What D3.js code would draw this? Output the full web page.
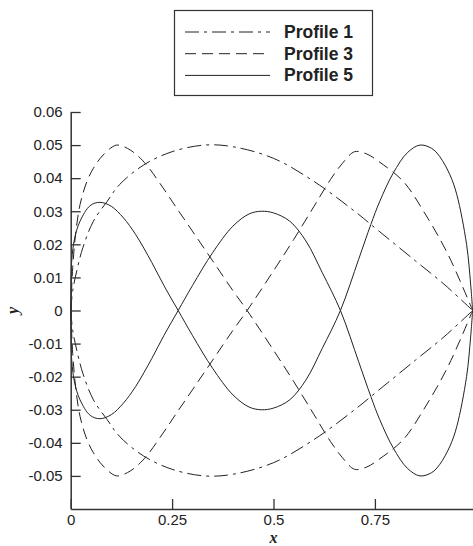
<!DOCTYPE html>
<html>
<head>
<meta charset="utf-8">
<script src="https://cdn.jsdelivr.net/npm/d3@7"></script>
<style>
  html, body { margin: 0; padding: 0; background: #fff; }
  svg { display: block; }
</style>
</head>
<body>
<div class="canvas"></div>
<script>
var width = 473,
    height = 546;

// data (upper and lower branch of each profile)
var xs1 = [0, 0.005, 0.015, 0.03, 0.056, 0.09, 0.12, 0.18, 0.25, 0.33, 0.4, 0.5, 0.6, 0.7, 0.76, 0.85, 0.92, 0.991];
var p1Upper = [0, 0.006, 0.012, 0.019, 0.027, 0.033, 0.038, 0.044, 0.048, 0.050, 0.0495, 0.046, 0.039, 0.030, 0.024, 0.015, 0.008, 0];
var p1Lower = [0, -0.006, -0.012, -0.019, -0.027, -0.033, -0.038, -0.044, -0.048, -0.050, -0.0495, -0.046, -0.039, -0.030, -0.024, -0.015, -0.008, 0];

var xs3 = [0, 0.005, 0.012, 0.023, 0.04, 0.056, 0.08, 0.113, 0.14, 0.163, 0.187, 0.228, 0.261, 0.3, 0.35, 0.4, 0.435, 0.5, 0.55, 0.6, 0.64, 0.67, 0.7, 0.73, 0.76, 0.82, 0.87, 0.93, 0.991];
var p3Upper = [0, 0.013, 0.023, 0.032, 0.039, 0.043, 0.047, 0.050, 0.049, 0.047, 0.044, 0.037, 0.031, 0.024, 0.015, 0.006, 0, -0.012, -0.0215, -0.0315, -0.0395, -0.0445, -0.048, -0.0473, -0.045, -0.039, -0.030, -0.017, 0];
var p3Lower = [0, -0.013, -0.023, -0.032, -0.039, -0.043, -0.047, -0.050, -0.049, -0.047, -0.044, -0.037, -0.031, -0.024, -0.015, -0.006, 0, 0.012, 0.0215, 0.0315, 0.0395, 0.0445, 0.048, 0.0473, 0.045, 0.039, 0.030, 0.017, 0];

var xs5 = [0, 0.0025, 0.01, 0.023, 0.048, 0.072, 0.1, 0.13, 0.16, 0.2, 0.23, 0.265, 0.3, 0.35, 0.4, 0.44, 0.47, 0.5, 0.54, 0.58, 0.62, 0.665, 0.71, 0.74, 0.762, 0.795, 0.83, 0.861, 0.89, 0.91, 0.935, 0.952, 0.976, 0.986, 0.991];
var p5Upper = [0, 0.015, 0.022, 0.027, 0.0317, 0.0327, 0.0315, 0.028, 0.023, 0.0145, 0.0075, 0, -0.0075, -0.0175, -0.0255, -0.0292, -0.030, -0.0295, -0.027, -0.021, -0.0115, 0, 0.0155, 0.026, 0.033, 0.0415, 0.0477, 0.050, 0.049, 0.0465, 0.041, 0.035, 0.020, 0.008, 0];
var p5Lower = [0, -0.015, -0.022, -0.027, -0.0317, -0.0327, -0.0315, -0.028, -0.023, -0.0145, -0.0075, 0, 0.0075, 0.0175, 0.0255, 0.0292, 0.030, 0.0295, 0.027, 0.021, 0.0115, 0, -0.0155, -0.026, -0.033, -0.0415, -0.0477, -0.050, -0.049, -0.0465, -0.041, -0.035, -0.020, -0.008, 0];

var xTicks = [0, 0.25, 0.5, 0.75];
var yTicks = [-0.05, -0.04, -0.03, -0.02, -0.01, 0, 0.01, 0.02, 0.03, 0.04, 0.05, 0.06];
var legendNames = ["Profile 1", "Profile 3", "Profile 5"];
var dashes = ["14,5,3,5", "11,6", null];

var svg = d3.select(".canvas").append("svg")
    .attr("width", width)
    .attr("height", height)
    .style("font-family", "'Liberation Sans', Arial, sans-serif");

var x = d3.scaleLinear().domain([0, 1]).range([70.7, 476.3]);
var y = d3.scaleLinear().domain([-0.06, 0.06]).range([509, 112]);

var line = d3.line()
    .x(function(d) { return x(d[0]); })
    .y(function(d) { return y(d[1]); })
    .curve(d3.curveCatmullRom.alpha(0.5));

var series = [
    {xs: xs1, ys: p1Upper, dash: dashes[0]},
    {xs: xs1, ys: p1Lower, dash: dashes[0]},
    {xs: xs3, ys: p3Upper, dash: dashes[1]},
    {xs: xs3, ys: p3Lower, dash: dashes[1]},
    {xs: xs5, ys: p5Upper, dash: dashes[2]},
    {xs: xs5, ys: p5Lower, dash: dashes[2]}
];

var curves = svg.append("g");
series.forEach(function(s) {
    curves.append("path")
        .datum(s.xs.map(function(v, i) { return [v, s.ys[i]]; }))
        .attr("d", line)
        .attr("fill", "none")
        .attr("stroke", "#222")
        .attr("stroke-width", 1)
        .attr("stroke-dasharray", s.dash);
});

// axes, ticks point inwards
var xAxis = svg.append("g")
    .attr("transform", "translate(0," + y(-0.06) + ")")
    .call(d3.axisBottom(x).tickValues(xTicks).tickSize(-10).tickSizeOuter(0).tickPadding(5)
        .tickFormat(function(d) { return String(d); }));

var yAxis = svg.append("g")
    .attr("transform", "translate(" + x(0) + ",0)")
    .call(d3.axisLeft(y).tickValues(yTicks).tickSize(-10).tickSizeOuter(0).tickPadding(8)
        .tickFormat(function(d) { return d === 0 ? "0" : d.toFixed(2); }));

[xAxis, yAxis].forEach(function(a) {
    a.select(".domain").attr("stroke", "#333").attr("stroke-width", 1.5);
    a.selectAll(".tick line").attr("stroke", "#333").attr("stroke-width", 1.3);
    a.selectAll(".tick text")
        .attr("fill", "#222")
        .style("font-size", "15px")
        .style("font-family", "'Liberation Sans', Arial, sans-serif");
});

// axis titles
svg.append("text")
    .attr("x", x(0.5))
    .attr("y", 543)
    .attr("text-anchor", "middle")
    .style("font-family", "'Liberation Serif', 'Times New Roman', serif")
    .style("font-style", "italic")
    .style("font-weight", "bold")
    .style("font-size", "16px")
    .attr("fill", "#222")
    .text("x");

svg.append("text")
    .attr("transform", "translate(18," + y(0) + ") rotate(-90)")
    .attr("text-anchor", "middle")
    .style("font-family", "'Liberation Serif', 'Times New Roman', serif")
    .style("font-style", "italic")
    .style("font-weight", "bold")
    .style("font-size", "16px")
    .attr("fill", "#222")
    .text("y");

// legend
var legend = svg.append("g");
legend.append("rect")
    .attr("x", 174.5)
    .attr("y", 10.5)
    .attr("width", 198)
    .attr("height", 85)
    .attr("fill", "#fff")
    .attr("stroke", "#333")
    .attr("stroke-width", 1.2);

legendNames.forEach(function(name, i) {
    var ly = 32 + i * 21.7;
    legend.append("line")
        .attr("x1", 185)
        .attr("x2", 270)
        .attr("y1", ly)
        .attr("y2", ly)
        .attr("stroke", "#222")
        .attr("stroke-width", 1)
        .attr("stroke-dasharray", dashes[i]);
    legend.append("text")
        .attr("x", 284)
        .attr("y", ly + 5.8)
        .style("font-weight", "bold")
        .style("font-size", "17.5px")
        .attr("fill", "#222")
        .text(name);
});
</script>
</body>
</html>
